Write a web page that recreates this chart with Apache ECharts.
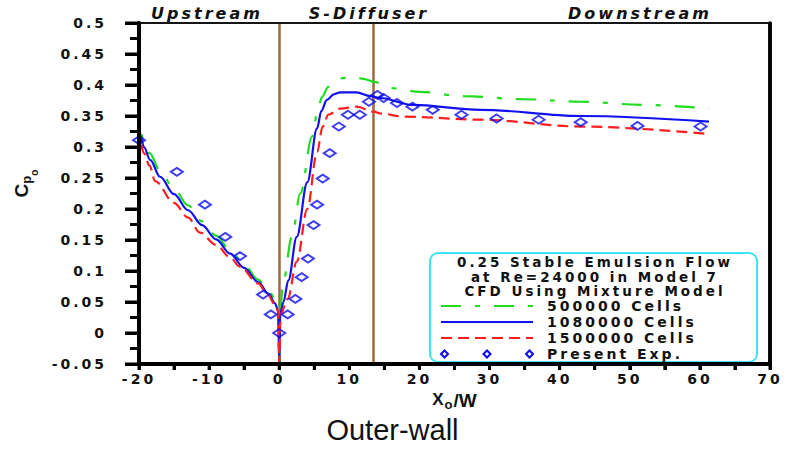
<!DOCTYPE html>
<html><head><meta charset="utf-8">
<script src="https://cdn.jsdelivr.net/npm/echarts@6/dist/echarts.min.js"></script>
<style>
html,body{margin:0;padding:0;background:#fff}
#chart{width:785px;height:450px}
#chart text[style*="DejaVu"]{letter-spacing:3px}
</style></head><body><div id="chart"></div>
<script>
// ---- data ----
const xMin = -20, xMax = 70, xStep = 10, xMinorStep = 5;
const yMin = -0.05, yMax = 0.5, yStep = 0.05, yMinorStep = 0.025;
const sectionBounds = [0, 13.4];
const regionNames = ['Upstream', 'S-Diffuser', 'Downstream'];
const legendTitle = ['0.25 Stable Emulsion Flow', 'at Re=24000 in Model 7', 'CFD Using Mixture Model'];
const seriesNames = ['500000 Cells', '1080000 Cells', '1500000 Cells', 'Present Exp.'];

const cells500k = [[-20,0.375],[-19.8,0.335],[-19.4,0.31],[-18.5,0.29],[-17,0.262],[-15,0.232],[-13,0.206],[-11,0.18],[-9,0.157],[-7,0.134],[-5,0.11],[-3,0.086],[-1.5,0.068],[-0.6,0.055],[-0.15,0.04],[0,-0.048],[0.15,0.04],[0.6,0.085],[1.8,0.155],[3,0.225],[4.7,0.317],[5.5,0.36],[6.1,0.381],[7,0.397],[7.8,0.405],[9,0.411],[10.6,0.413],[12,0.41],[13.5,0.405],[15.9,0.395],[20,0.389],[26.3,0.382],[35,0.377],[43,0.373],[52,0.368],[61.3,0.362]];
const cells1080k = [[-20,0.36],[-19.8,0.318],[-19.3,0.3],[-18.4,0.279],[-17,0.252],[-15,0.224],[-13,0.198],[-11,0.174],[-9,0.151],[-7,0.128],[-5,0.105],[-3,0.082],[-1.5,0.063],[-0.6,0.048],[-0.15,0.036],[0,-0.048],[0.15,0.032],[0.6,0.05],[1.3,0.085],[2.5,0.155],[4,0.243],[5.4,0.33],[6,0.358],[6.8,0.376],[7.8,0.385],[8.7,0.388],[11,0.388],[13,0.382],[14.4,0.379],[19,0.368],[28.7,0.36],[43,0.35],[61.3,0.341]];
const cells1500k = [[-20,0.33],[-19.8,0.305],[-19.3,0.29],[-18.5,0.27],[-17.7,0.245],[-15,0.21],[-13,0.186],[-11.3,0.162],[-9,0.142],[-7,0.122],[-5.6,0.107],[-3,0.08],[-1.76,0.064],[-0.6,0.046],[-0.15,0.035],[0,-0.048],[0.2,0.03],[1.2,0.055],[2.5,0.115],[4,0.2],[5.4,0.292],[6.2,0.333],[7,0.352],[8.7,0.362],[11,0.365],[13.5,0.357],[14.4,0.354],[17.8,0.349],[28.7,0.344],[43,0.333],[61.3,0.321]];
const presentExp = [[-20,0.311],[-14.6,0.26],[-10.6,0.207],[-7.7,0.155],[-5.6,0.124],[-2.3,0.062],[-1.2,0.030],[0,0.0],[1.2,0.030],[2.3,0.055],[3.2,0.09],[4.1,0.12],[4.9,0.174],[5.4,0.207],[6.2,0.249],[7.2,0.29],[8.5,0.333],[9.8,0.352],[11.5,0.352],[12.8,0.373],[14.0,0.384],[14.9,0.379],[16.8,0.371],[19,0.365],[21.9,0.36],[26,0.352],[31,0.346],[37,0.344],[43,0.34],[51.1,0.334],[60.1,0.333]];

// ---- styles ----
const FONT = 'DejaVu Sans';
const cGreen = '#1fdc1f', cBlue = '#1010f0', cRed = '#ff1e1e', cExp = '#0c0cf0', cBrown = '#9c6b3b';
const chart = echarts.init(document.getElementById('chart'), null, {renderer: 'svg'});
const tickLabelStyle = {fontSize: 14, fontWeight: 'bold', fontFamily: FONT, color: '#111'};
const titleLine = {textAlign: 'center', textVerticalAlign: 'middle', fontSize: 13.5, fontWeight: 'bold', fontFamily: FONT, fill: '#111'};
const regionStyle = {textAlign: 'center', textVerticalAlign: 'middle', fontSize: 16, fontWeight: 'bold', fontStyle: 'italic', fontFamily: FONT, fill: '#111'};
const nameFont = {fontWeight: 'bold', fontFamily: 'Liberation Sans', color: '#111'};
const hiddenLabel = {show: false};

const baseGraphic = [
  {type: 'rect', z: 1, shape: {x: 430, y: 253, width: 327, height: 109, r: 8},
   style: {fill: '#fff', stroke: '#3fe3f3', lineWidth: 2}},
  {type: 'text', z: 5, style: Object.assign({text: legendTitle[0], x: 595, y: 262}, titleLine)},
  {type: 'text', z: 5, style: Object.assign({text: legendTitle[1], x: 595, y: 276.5}, titleLine)},
  {type: 'text', z: 5, style: Object.assign({text: legendTitle[2], x: 595, y: 291}, titleLine)},
  {type: 'text', style: Object.assign({text: regionNames[0], x: 207, y: 13}, regionStyle)},
  {type: 'text', style: Object.assign({text: regionNames[1], x: 369, y: 13}, regionStyle)},
  {type: 'text', style: Object.assign({text: regionNames[2], x: 640, y: 13}, regionStyle)}
];

chart.setOption({
  animation: false,
  backgroundColor: '#fff',
  title: {
    text: 'Outer-wall', left: 'center', top: 410,
    textStyle: {fontSize: 29, fontWeight: 'normal', fontFamily: 'Liberation Sans', color: '#111'}
  },
  grid: {left: 139, right: 15, top: 23, bottom: 86},
  xAxis: [{
    type: 'value', min: xMin, max: xMax, interval: xStep, position: 'bottom',
    axisLine: {show: true, onZero: false, lineStyle: {color: '#000', width: 4}},
    axisTick: {show: true, length: 6, lineStyle: {color: '#000', width: 3}},
    minorTick: {show: true, splitNumber: 2, length: 6, lineStyle: {color: '#000', width: 3}},
    splitLine: {show: false},
    axisLabel: Object.assign({show: true, margin: 8}, tickLabelStyle),
    name: '{x|X}{s|o}{w|/W}', nameLocation: 'middle', nameGap: 22,
    nameTextStyle: {
      rich: {
        x: Object.assign({fontSize: 17, lineHeight: 17, verticalAlign: 'top', padding: [0, 1, 0, 0]}, nameFont),
        s: Object.assign({fontSize: 13, lineHeight: 13, padding: [7, 1, 0, 0], verticalAlign: 'top'}, nameFont),
        w: Object.assign({fontSize: 19, lineHeight: 17, verticalAlign: 'top'}, nameFont)
      }
    }
  }, {
    type: 'value', min: xMin, max: xMax, position: 'top',
    axisLine: {show: true, onZero: false, lineStyle: {color: '#222', width: 1.5}},
    axisTick: {show: false}, axisLabel: hiddenLabel, splitLine: {show: false}
  }],
  yAxis: [{
    type: 'value', min: yMin, max: yMax, interval: yStep, position: 'left',
    axisLine: {show: true, onZero: false, lineStyle: {color: '#000', width: 4}},
    axisTick: {show: true, length: 14, lineStyle: {color: '#000', width: 3}},
    minorTick: {show: true, splitNumber: 2, length: 9, lineStyle: {color: '#000', width: 3}},
    splitLine: {show: false},
    axisLabel: Object.assign({show: true, margin: 32, formatter: v => String(+v.toFixed(2))}, tickLabelStyle),
    name: '{c|C}{p|p}{o|o}', nameLocation: 'middle', nameRotate: 90, nameGap: 108,
    nameTextStyle: {
      padding: [0, 0, 0, 20],
      rich: {
        c: Object.assign({fontSize: 19, lineHeight: 19, verticalAlign: 'top'}, nameFont),
        p: Object.assign({fontSize: 13, lineHeight: 13, padding: [8, 0, 0, 0], verticalAlign: 'top'}, nameFont),
        o: Object.assign({fontSize: 10, lineHeight: 10, padding: [17, 0, 0, 0], verticalAlign: 'top'}, nameFont)
      }
    }
  }, {
    type: 'value', min: yMin, max: yMax, position: 'right',
    axisLine: {show: true, onZero: false, lineStyle: {color: '#000', width: 3.5}},
    axisTick: {show: false}, axisLabel: hiddenLabel, splitLine: {show: false}
  }],
  legend: {
    orient: 'vertical', left: 440, top: 299, padding: 0,
    itemWidth: 92, itemHeight: 7, itemGap: 2,
    textStyle: {fontSize: 14, fontWeight: 'bold', fontFamily: FONT, color: '#111', lineHeight: 14, padding: [0, 0, 0, 9]},
    data: [
      {name: seriesNames[0], itemStyle: {opacity: 0}},
      {name: seriesNames[1], itemStyle: {opacity: 0}},
      {name: seriesNames[2], itemStyle: {opacity: 0}},
      {name: seriesNames[3],
       icon: 'path://M0,3.5L3.5,0L7,3.5L3.5,7Z M42.5,3.5L46,0L49.5,3.5L46,7Z M85,3.5L88.5,0L92,3.5L88.5,7Z',
       itemStyle: {color: 'rgba(255,255,255,0)', borderColor: cExp, borderWidth: 2, opacity: 1}}
    ]
  },
  graphic: baseGraphic,
  series: [
    {name: seriesNames[0], type: 'line', data: cells500k, symbol: 'none', smooth: 0.35, smoothMonotone: 'x', clip: false,
     lineStyle: {color: cGreen, width: 2.2, type: [20, 14, 5, 14]}, itemStyle: {color: cGreen}, z: 3},
    {name: seriesNames[1], type: 'line', data: cells1080k, symbol: 'none', smooth: 0.35, smoothMonotone: 'x', clip: false,
     lineStyle: {color: cBlue, width: 2.2, type: 'solid'}, itemStyle: {color: cBlue}, z: 3,
     markLine: {silent: true, symbol: ['none', 'none'], label: {show: false}, z: 1,
       lineStyle: {color: cBrown, width: 2.5, type: 'solid'},
       emphasis: {disabled: true},
       data: sectionBounds.map(v => ({xAxis: v}))}},
    {name: seriesNames[2], type: 'line', data: cells1500k, symbol: 'none', smooth: 0.35, smoothMonotone: 'x', clip: false,
     lineStyle: {color: cRed, width: 2.2, type: [11, 6]}, itemStyle: {color: cRed}, z: 3},
    {name: seriesNames[3], type: 'scatter', data: presentExp, symbol: 'diamond', symbolSize: [12, 8], clip: false,
     itemStyle: {color: 'rgba(255,255,255,0)', borderColor: cExp, borderWidth: 2}, z: 4}
  ]
});

// Heavy frame and outward ticks as filled bars, placed through the axes' own scales.
(function () {
  const px = v => chart.convertToPixel({xAxisIndex: 0}, v);
  const py = v => chart.convertToPixel({yAxisIndex: 0}, v);
  const x0 = px(xMin), x1 = px(xMax), yb = py(yMin), yt = py(yMax);
  const bar = (x, y, w, h) => ({type: 'rect', z: 100, silent: true,
    shape: {x: x, y: y, width: w, height: h}, style: {fill: '#000'}});
  const extra = [];
  const nx = Math.round((xMax - xMin) / xMinorStep);
  for (let i = 0; i <= nx; i++) {
    const x = px(xMin + i * xMinorStep);
    extra.push(bar(x - 1.5, yb, 3, 6));
  }
  const ny = Math.round((yMax - yMin) / yMinorStep);
  for (let i = 0; i <= ny; i++) {
    const y = py(yMin + i * yMinorStep);
    const len = i % 2 === 0 ? 14 : 9;
    extra.push(bar(x0 - len, y - 1.5, len, 3));
  }
  extra.push(bar(x0 - 2, yt - 1, 4, yb - yt + 3));
  extra.push(bar(x0 - 2, yb - 2, x1 - x0 + 4, 4));
  extra.push(bar(x1 - 1.75, yt - 1, 3.5, yb - yt + 3));
  extra.push(bar(x0, yt - 0.75, x1 - x0, 1.5));
  chart.setOption({graphic: baseGraphic.concat(extra)});
})();
</script></body></html>
